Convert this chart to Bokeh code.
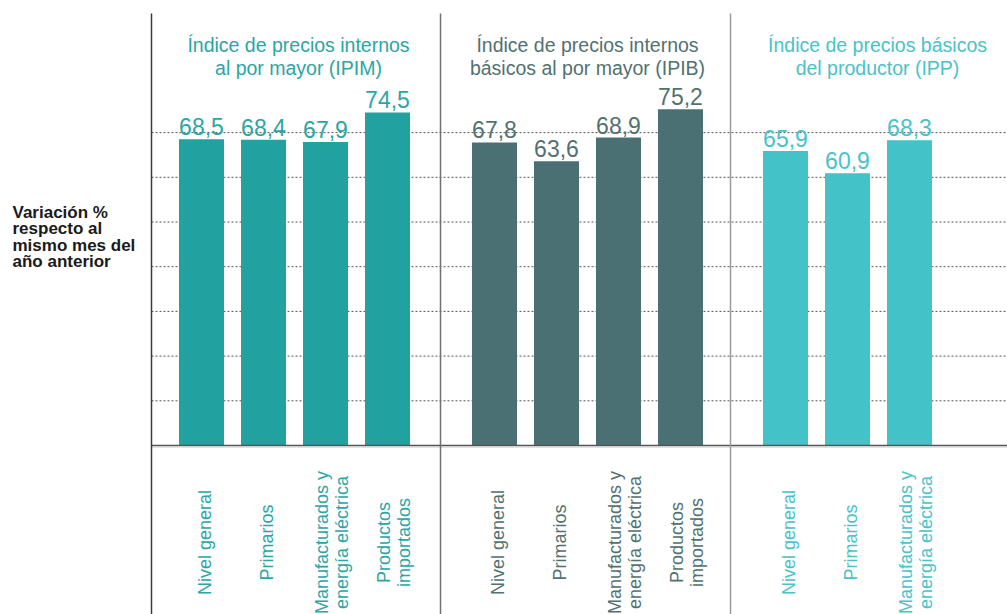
import math
from bokeh.plotting import figure
from bokeh.models import Range1d
from bokeh.core.properties import value
from bokeh.embed import file_html
from bokeh.resources import INLINE

# ---- data ----
group_titles = [
    ["Índice de precios internos", "al por mayor (IPIM)"],
    ["Índice de precios internos", "básicos al por mayor (IPIB)"],
    ["Índice de precios básicos", "del productor (IPP)"],
]
ipim_cats = ["Nivel general", "Primarios", "Manufacturados y\nenergía eléctrica", "Productos\nimportados"]
ipim_vals = [68.5, 68.4, 67.9, 74.5]
ipib_cats = ["Nivel general", "Primarios", "Manufacturados y\nenergía eléctrica", "Productos\nimportados"]
ipib_vals = [67.8, 63.6, 68.9, 75.2]
ipp_cats = ["Nivel general", "Primarios", "Manufacturados y\nenergía eléctrica"]
ipp_vals = [65.9, 60.9, 68.3]
grid_vals = [10, 20, 30, 40, 50, 60, 70]
ylabel_lines = ["Variación %", "respecto al", "mismo mes del", "año anterior"]

# ---- layout ----
W, H = 1007, 614
ZERO_PX = 445.0
K = 4.47  # px per unit
FONT = "Liberation Sans"


def py(pix):
    return (ZERO_PX - pix) / K


bar_colors = ["#22A1A1", "#4A7073", "#43C2C8"]
text_colors = ["#2AA6A4", "#52716F", "#48C3C8"]
seps = [151, 440, 730]
first_off = [50, 54, 55]
step = 62
bar_w = 45

p = figure(width=W, height=H, output_backend="svg", toolbar_location=None,
           x_range=Range1d(0, W), y_range=Range1d(py(H), py(0)),
           min_border=0, outline_line_color=None)
p.axis.visible = False
p.xgrid.visible = False
p.ygrid.visible = False
p.background_fill_color = "white"
p.border_fill_color = "white"

# dotted gridlines
p.segment(x0=[seps[0]] * len(grid_vals), x1=[W] * len(grid_vals), y0=grid_vals, y1=grid_vals,
          line_color="#555555", line_width=1, line_dash="2 2")

groups = [(ipim_cats, ipim_vals), (ipib_cats, ipib_vals), (ipp_cats, ipp_vals)]
for g, (cats, vals) in enumerate(groups):
    xs = [seps[g] + first_off[g] + i * step for i in range(len(vals))]
    p.vbar(x=xs, top=vals, bottom=0, width=bar_w, fill_color=bar_colors[g], line_color=None)
    labels = [f"{v:.1f}".replace(".", ",") for v in vals]
    p.text(x=xs, y=vals, text=labels, text_align="center", text_baseline="bottom",
           y_offset=-4, text_font=value(FONT), text_font_size="23px", text_color=text_colors[g])
    # rotated category labels
    lx = [x + (6 if "\n" in c else 3) for x, c in zip(xs, cats)]
    p.text(x=lx, y=[py(542)] * len(cats), text=cats, angle=math.pi / 2,
           text_align="center", text_baseline="middle", text_line_height=1.0,
           text_font=value(FONT), text_font_size="18px", text_color=text_colors[g])
    # titles
    cx = seps[g] + 147
    p.text(x=[cx, cx], y=[py(44), py(67)], text=group_titles[g], text_align="center",
           text_baseline="alphabetic", text_font=value(FONT), text_font_size="19.5px",
           text_color=text_colors[g])

# baseline
p.segment(x0=[seps[0]], x1=[W], y0=[0], y1=[0], line_color="#555555", line_width=1.5)
p.segment(x0=[seps[0]], x1=[W], y0=[py(446.5)], y1=[py(446.5)], line_color="#c8c8c8", line_width=1)

# vertical separators
p.segment(x0=seps, x1=seps, y0=[py(13)] * 3, y1=[py(H)] * 3,
          line_color=["#3a3a3a", "#707070", "#9a9a9a"], line_width=1.5)

# left label
p.text(x=[12] * 4, y=[py(b) for b in [212, 228, 245, 261]], text=ylabel_lines,
       text_align="left", text_baseline="alphabetic", text_font=value(FONT),
       text_font_size="17px", text_font_style="bold", text_color="#1a1a1a")

open("out.html", "w").write(file_html(p, INLINE))
